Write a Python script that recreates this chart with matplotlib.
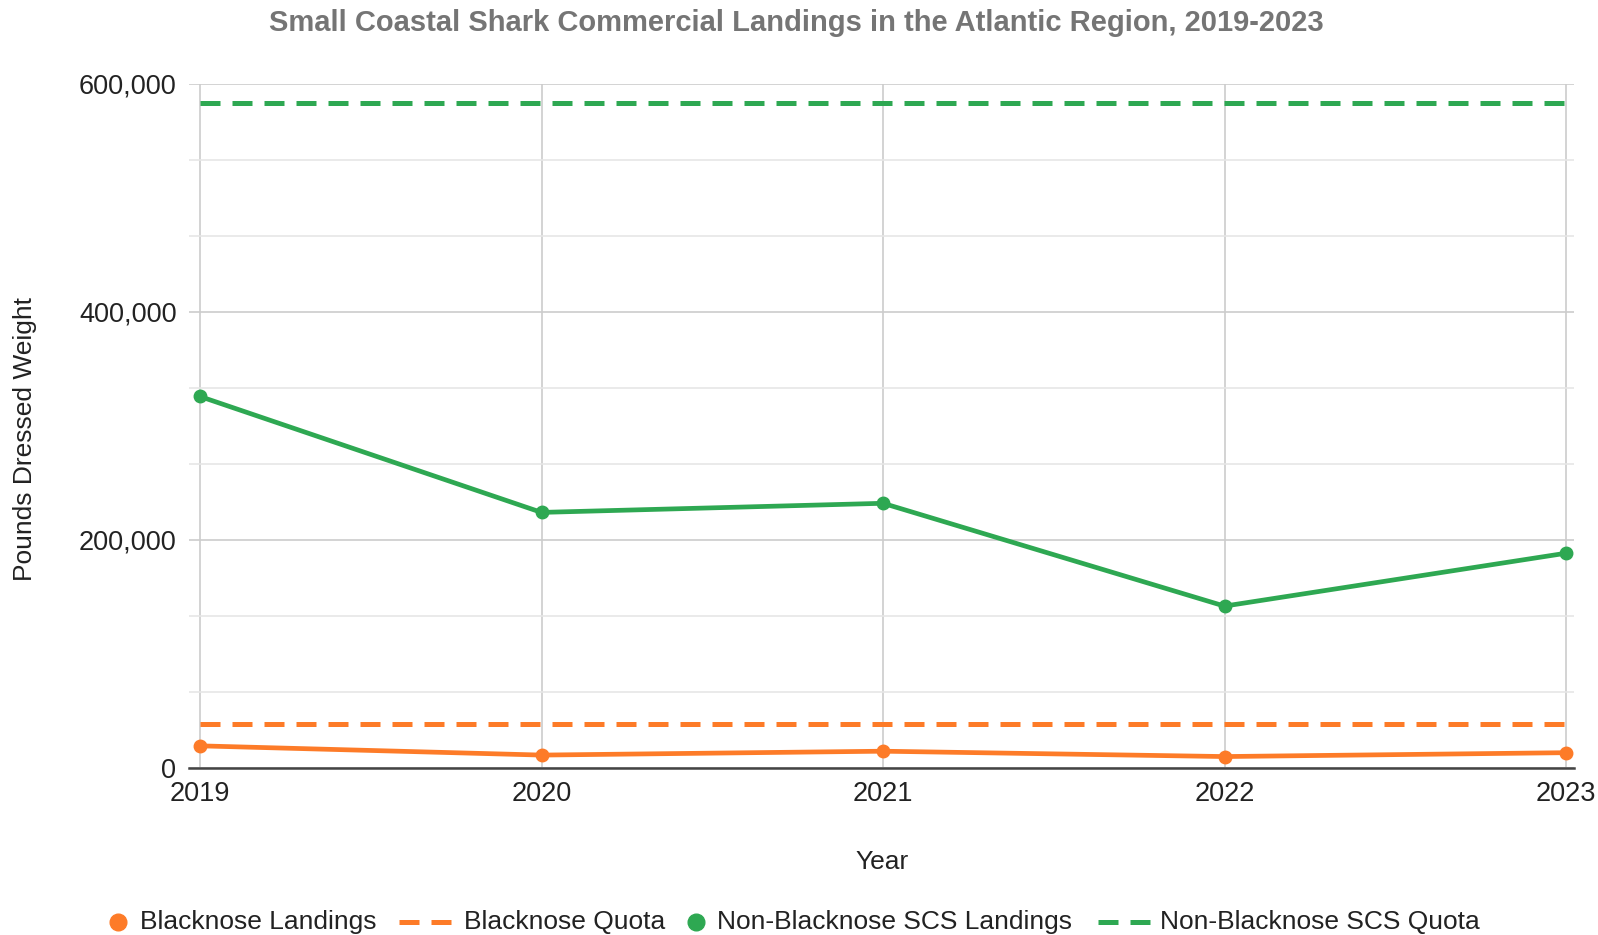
import numpy as np
import matplotlib.pyplot as plt
from matplotlib.lines import Line2D
from matplotlib.ticker import MultipleLocator, FuncFormatter

plt.rcParams['font.family'] = ['Liberation Sans', 'DejaVu Sans']

# Datos
years = [2019, 2020, 2021, 2022, 2023]
blacknose_landings = [19000, 10900, 14300, 9600, 13000]
blacknose_quota = [37900, 37900, 37900, 37900, 37900]
non_blacknose_landings = [325500, 223800, 231800, 141600, 188000]
non_blacknose_quota = [582600, 582600, 582600, 582600, 582600]

legend_labels = ['Blacknose Landings', 'Blacknose Quota',
                 'Non-Blacknose SCS Landings', 'Non-Blacknose SCS Quota']

orange = '#fd7b28'
green = '#2ea852'
W, H = 1598, 935

fig = plt.figure(figsize=(W / 100, H / 100), dpi=100)
ax = fig.add_axes([189 / W, 1 - 767.5 / H, (1574 - 189) / W, (767.5 - 83.6) / H])

# Cuotas (discontinuas)
ax.plot(years, non_blacknose_quota, color=green, lw=3.6, dashes=(4, 2.4),
        dash_capstyle='butt', zorder=3)
ax.plot(years, blacknose_quota, color=orange, lw=3.6, dashes=(4, 2.4),
        dash_capstyle='butt', zorder=3)

# Desembarques (lineas con puntos)
ax.plot(years, non_blacknose_landings, color=green, lw=3.4, marker='o',
        ms=9, zorder=4)
ax.plot(years, blacknose_landings, color=orange, lw=3.4, marker='o',
        ms=9, zorder=4)

ax.set_xlim(2019 - 11 / 341.5, 2023 + 8 / 341.5)
ax.set_ylim(0, 600000)
ax.set_xticks(years)
ax.yaxis.set_major_locator(MultipleLocator(200000))
ax.yaxis.set_minor_locator(MultipleLocator(200000 / 3))
ax.yaxis.set_major_formatter(FuncFormatter(lambda v, p: f'{int(v):,}'))

ax.grid(True, which='major', axis='both', color='#cccccc', lw=1.2, zorder=0)
ax.grid(True, which='minor', axis='y', color='#e6e6e6', lw=1.2, zorder=0)
ax.tick_params(axis='both', which='both', length=0, labelsize=19.5,
               labelcolor='#222222')
ax.tick_params(axis='y', pad=9)
ax.tick_params(axis='x', pad=10)

for side in ['top', 'right', 'left']:
    ax.spines[side].set_visible(False)
ax.spines['bottom'].set_color('#444444')
ax.spines['bottom'].set_linewidth(1.8)
ax.spines['bottom'].set_zorder(5)

ax.set_xlabel('Year', fontsize=19, color='#222222')
ax.xaxis.set_label_coords((882 - 189) / (1574 - 189), -(850 - 767.5) / 684)
ax.set_ylabel('Pounds Dressed Weight', fontsize=19, color='#222222')
ax.yaxis.set_label_coords(-(189 - 37) / (1574 - 189), 0.48)

fig.text(0.4985, 1 - 23 / H, 'Small Coastal Shark Commercial Landings in the Atlantic Region, 2019-2023',
         ha='center', va='center', fontsize=21, fontweight='bold', color='#757575')

# Leyenda dibujada a mano para imitar el espaciado original
ly = 1 - 922 / H
fig.add_artist(Line2D([118 / W], [ly], color=orange, marker='o', ms=12, ls='none'))
fig.text(140 / W, ly, legend_labels[0], va='center', fontsize=19, color='#222222')
fig.add_artist(Line2D([399 / W, 451 / W], [ly, ly], color=orange, lw=3.6,
                      dashes=(4, 2.4), dash_capstyle='butt'))
fig.text(464 / W, ly, legend_labels[1], va='center', fontsize=19, color='#222222')
fig.add_artist(Line2D([696 / W], [ly], color=green, marker='o', ms=12, ls='none'))
fig.text(717 / W, ly, legend_labels[2], va='center', fontsize=19, color='#222222')
fig.add_artist(Line2D([1098 / W, 1150 / W], [ly, ly], color=green, lw=3.6,
                      dashes=(4, 2.4), dash_capstyle='butt'))
fig.text(1160 / W, ly, legend_labels[3], va='center', fontsize=19, color='#222222')

fig.savefig('out.png', dpi=100)
